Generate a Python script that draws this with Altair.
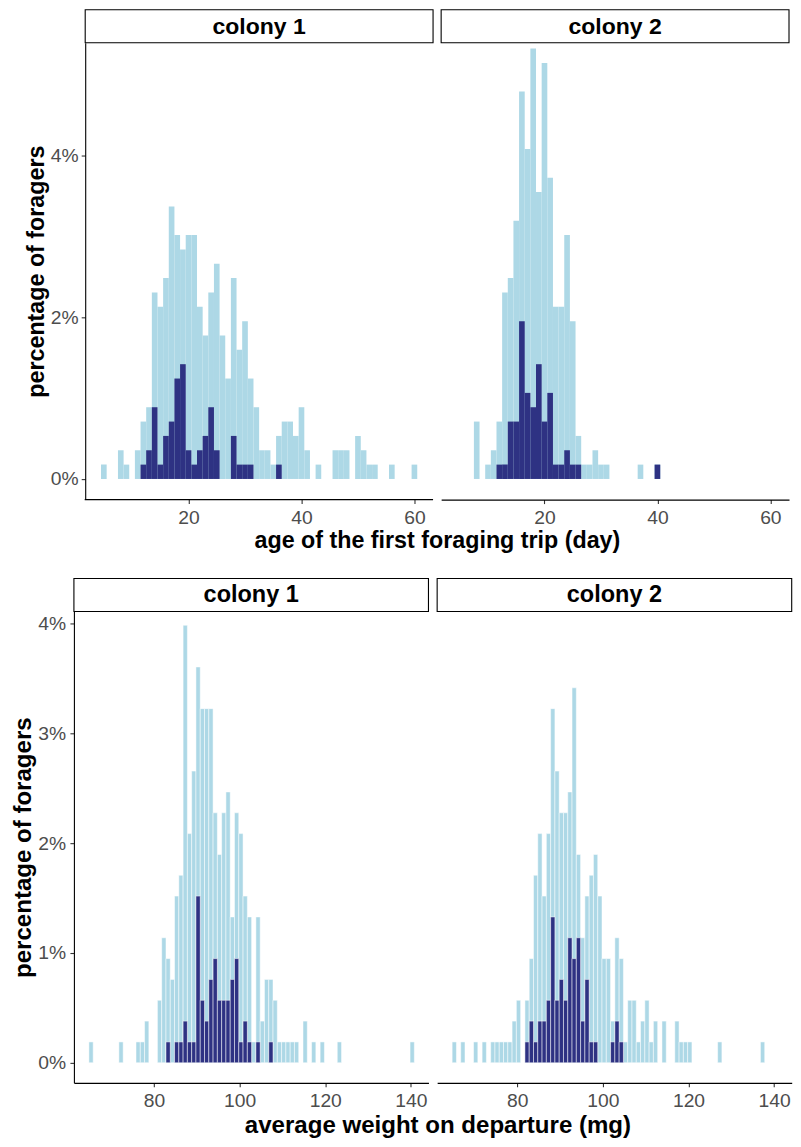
import altair as alt
import pandas as pd

# ---------------- data ----------------
# Age of first foraging trip (day) - all foragers, colony 1
AGE_C1_DAY = [5, 8, 9, 11, 12, 13, 14, 15, 16, 17, 18, 19, 20, 21, 22, 23, 24, 25, 26, 27,
              28, 29, 30, 31, 32, 33, 34, 35, 36, 37, 38, 39, 40, 41, 43, 46, 47, 48, 50, 51,
              52, 53, 56, 60]
AGE_C1_ALL = [1, 2, 1, 2, 4, 5, 13, 12, 14, 19, 17, 16, 17, 17, 12, 10, 13, 15, 10, 7,
              14, 9, 11, 7, 5, 2, 2, 1, 3, 4, 4, 3, 5, 2, 1, 2, 2, 2, 3, 2,
              1, 1, 1, 1]
# subset (dark bars), colony 1
AGE_C1_SUB_DAY = [12, 13, 14, 15, 16, 17, 18, 19, 20, 21, 22, 23, 24, 25, 28, 29, 30, 31, 36]
AGE_C1_SUB = [1, 2, 5, 1, 3, 4, 7, 8, 2, 1, 2, 3, 5, 2, 3, 1, 1, 1, 1]

# colony 2
AGE_C2_DAY = [8, 10, 11, 12, 13, 14, 15, 16, 17, 18, 19, 20, 21, 22, 23, 24, 25, 26, 27, 28,
              29, 30, 31, 37, 40]
AGE_C2_ALL = [4, 1, 2, 4, 13, 14, 18, 27, 23, 30, 20, 29, 21, 12, 12, 17, 11, 3, 1, 1,
              2, 1, 1, 1, 1]
AGE_C2_SUB_DAY = [12, 13, 14, 15, 16, 17, 18, 19, 20, 21, 22, 23, 24, 25, 26, 40]
AGE_C2_SUB = [1, 1, 4, 4, 11, 6, 5, 8, 4, 6, 1, 1, 2, 1, 1, 1]

# Average weight on departure (mg), colony 1
WT_C1_MG = [65, 72, 76, 77, 78, 81, 82, 83, 84, 85, 86, 87, 88, 89, 90, 91, 92, 93, 94, 95,
            96, 97, 98, 99, 100, 101, 102, 103, 104, 105, 106, 107, 108, 109, 110, 111, 112,
            113, 115, 117, 119, 123, 140]
WT_C1_ALL = [1, 1, 1, 1, 2, 3, 6, 5, 4, 8, 9, 21, 11, 14, 19, 17, 17, 17, 12, 10,
             12, 13, 7, 12, 11, 8, 7, 1, 7, 2, 4, 4, 3, 1, 1, 1, 1,
             1, 2, 1, 1, 1, 1]
WT_C1_SUB_MG = [83, 85, 86, 87, 88, 89, 90, 91, 92, 93, 94, 95, 96, 97, 98, 99, 100, 101,
                102, 104, 107]
WT_C1_SUB = [1, 1, 1, 2, 1, 1, 8, 3, 2, 4, 5, 3, 3, 3, 4, 5, 1, 2, 1, 1, 1]

# colony 2
WT_C2_MG = [65, 67, 70, 72, 74, 75, 76, 77, 78, 79, 80, 82, 83, 84, 85, 86, 87, 88, 89, 90,
            91, 92, 93, 94, 95, 96, 97, 98, 99, 100, 101, 102, 103, 104, 105, 106, 107, 108,
            109, 110, 111, 112, 114, 117, 118, 119, 120, 127, 137]
WT_C2_ALL = [1, 1, 1, 1, 1, 1, 1, 1, 1, 2, 3, 3, 5, 9, 11, 8, 11, 17, 14, 12,
             12, 13, 18, 10, 6, 8, 9, 10, 8, 5, 5, 2, 6, 5, 1, 3, 3, 1,
             2, 3, 1, 2, 2, 2, 1, 1, 1, 1, 1]
WT_C2_SUB_MG = [82, 83, 84, 85, 86, 87, 88, 89, 90, 91, 92, 93, 94, 95, 96, 97, 98, 102, 103, 104]
WT_C2_SUB = [1, 2, 1, 2, 2, 3, 7, 3, 4, 3, 6, 5, 6, 2, 4, 1, 1, 1, 2, 1]

COLONIES = ["colony 1", "colony 2"]
AGE_TICKS = [20, 40, 60]
WT_TICKS = [80, 100, 120, 140]
AGE_PCT_TICKS = [0, 2, 4]
WT_PCT_TICKS = [0, 1, 2, 3, 4]

# ---------------- styling ----------------
LIGHT = "#ADD8E6"
DARK = "#2E3283"
FONT = "Liberation Sans"
STRIP_H = 33


def make_df(centers, counts, total, lo, hi):
    return pd.DataFrame({
        "x0": [c + lo for c in centers],
        "x1": [c + hi for c in centers],
        "pct": [100.0 * n / total for n in counts],
        "base": [0.0] * len(counts),
    })


def panel(df_all, df_sub, label, width, height, xdom, ydom, xticks, yticks,
          show_y, lead=0.0, xtitle=None, xtitle_x=None, ytitle=None, stroke=None,
          xlabel_pad=5, xtitle_pad=1, ylabel_pad=3, ytitle_pad=2,
          label_fs=19.3, title_fs=23.3, strip_fs=23):
    xaxis_kwargs = dict(values=xticks, grid=False, tickSize=4, labelPadding=xlabel_pad,
                        labelFontSize=label_fs, labelColor="#4D4D4D", tickColor="#333333",
                        tickWidth=1.1, domain=(lead == 0), domainColor="#000000",
                        domainWidth=1.1, titleFontSize=title_fs, titleFontWeight="bold",
                        titleColor="#000000", titlePadding=xtitle_pad, labelFlush=False)
    if xtitle is not None:
        xaxis_kwargs["title"] = xtitle
        xaxis_kwargs["titleX"] = xtitle_x
    else:
        xaxis_kwargs["title"] = None
    xenc = alt.X("x0:Q", scale=alt.Scale(domain=xdom, nice=False, zero=False),
                 axis=alt.Axis(**xaxis_kwargs))
    if show_y:
        yaxis = alt.Axis(values=yticks, grid=False, tickSize=4, labelPadding=ylabel_pad,
                         labelFontSize=label_fs, labelColor="#4D4D4D", tickColor="#333333",
                         tickWidth=1.1, domainColor="#000000", domainWidth=1.1,
                         labelExpr="datum.value + '%'", title=ytitle, offset=-lead,
                         titleFontSize=title_fs, titleFontWeight="bold", titleColor="#000000",
                         titlePadding=ytitle_pad, labelFlush=False)
        yenc = alt.Y("pct:Q", scale=alt.Scale(domain=ydom, nice=False, zero=False), axis=yaxis)
    else:
        yenc = alt.Y("pct:Q", scale=alt.Scale(domain=ydom, nice=False, zero=False), axis=None)

    mk = dict()
    if stroke:
        mk = dict(stroke="white", strokeWidth=stroke)
    light = alt.Chart(df_all).mark_rect(color=LIGHT, **mk).encode(
        x=xenc, x2="x1:Q", y=yenc, y2="base:Q")
    dark = alt.Chart(df_sub).mark_rect(color=DARK, **mk).encode(
        x="x0:Q", x2="x1:Q", y="pct:Q", y2="base:Q")
    strip_df = pd.DataFrame({"label": [label]})
    strip = alt.Chart(strip_df).mark_rect(fill="white", stroke="black", strokeWidth=1.1).encode(
        x=alt.value(lead), x2=alt.value(width), y=alt.value(-STRIP_H), y2=alt.value(0))
    strip_text = alt.Chart(strip_df).mark_text(font=FONT, fontSize=strip_fs, fontWeight="bold",
                                               color="black", baseline="middle").encode(
        x=alt.value(lead + (width - lead) / 2), y=alt.value(-STRIP_H / 2 + 0.5), text="label:N")
    layers = [light, dark, strip, strip_text]
    if lead:
        axis_line = alt.Chart(strip_df).mark_rule(color="black", strokeWidth=1.1).encode(
            x=alt.value(lead - 0.5), x2=alt.value(width), y=alt.value(height))
        layers.append(axis_line)
    return alt.layer(*layers).properties(width=width, height=height)


AGE_TOTAL = sum(AGE_C1_ALL) + sum(AGE_C2_ALL)
WT_TOTAL = sum(WT_C1_ALL) + sum(WT_C2_ALL)

ORIGIN_X = 73          # page x of the bottom-left plot area

# top figure geometry
TW, TH = 348.3, 457.5
LEAD = 84.3 - ORIGIN_X          # top figure sits a little to the right of the bottom one
TOP_PX_PER_DAY = TW / (63.3 - 1.7)
TOP_XDOM = [1.7, 63.3]
TOP_XDOM_LEAD = [1.7 - LEAD / TOP_PX_PER_DAY, 63.3]
TOP_YDOM = [-0.255, 5.392]
TOP_GAP = 7.7

# bottom figure geometry
BW, BH = 355, 472
BOT_XDOM = [61.3, 144.1]
BOT_YDOM = [-0.183, 4.111]
BOT_GAP = 8.7

ROW_GAP = 25.5  # from the top figure's x title to the bottom figure's strips

tl = panel(make_df(AGE_C1_DAY, AGE_C1_ALL, AGE_TOTAL, -0.5, 0.5),
           make_df(AGE_C1_SUB_DAY, AGE_C1_SUB, AGE_TOTAL, -0.5, 0.5),
           COLONIES[0], TW + LEAD, TH, TOP_XDOM_LEAD, TOP_YDOM, AGE_TICKS, AGE_PCT_TICKS, True,
           lead=LEAD, xtitle="age of the first foraging trip (day)",
           xtitle_x=LEAD + (2 * TW + TOP_GAP) / 2, ytitle="percentage of foragers",
           xlabel_pad=4.5, xtitle_pad=2, ylabel_pad=3, ytitle_pad=2)
tr = panel(make_df(AGE_C2_DAY, AGE_C2_ALL, AGE_TOTAL, -0.5, 0.5),
           make_df(AGE_C2_SUB_DAY, AGE_C2_SUB, AGE_TOTAL, -0.5, 0.5),
           COLONIES[1], TW, TH, TOP_XDOM, TOP_YDOM, AGE_TICKS, AGE_PCT_TICKS, False,
           xlabel_pad=4.5)

bl = panel(make_df(WT_C1_MG, WT_C1_ALL, WT_TOTAL, -0.2, 0.8),
           make_df(WT_C1_SUB_MG, WT_C1_SUB, WT_TOTAL, -0.2, 0.8),
           COLONIES[0], BW, BH, BOT_XDOM, BOT_YDOM, WT_TICKS, WT_PCT_TICKS, True,
           xtitle="average weight on departure (mg)", xtitle_x=437 - ORIGIN_X,
           ytitle="percentage of foragers", stroke=0.5,
           xlabel_pad=5, xtitle_pad=2, ylabel_pad=4.3, ytitle_pad=2,
           title_fs=24.1, strip_fs=23.5)
br = panel(make_df(WT_C2_MG, WT_C2_ALL, WT_TOTAL, -0.2, 0.8),
           make_df(WT_C2_SUB_MG, WT_C2_SUB, WT_TOTAL, -0.2, 0.8),
           COLONIES[1], BW, BH, BOT_XDOM, BOT_YDOM, WT_TICKS, WT_PCT_TICKS, False, stroke=0.5,
           xlabel_pad=5, title_fs=24.1, strip_fs=23.5)

top = alt.hconcat(tl, tr, spacing=TOP_GAP, bounds="flush")
bottom = alt.hconcat(bl, br, spacing=BOT_GAP, bounds="flush")

chart = alt.vconcat(top, bottom, spacing=ROW_GAP).configure(
    font=FONT,
    padding={"left": 3, "top": 0, "right": 0, "bottom": 0},
).configure_view(stroke=None)

chart.save("out.html", embed_options={"renderer": "svg", "actions": False})
